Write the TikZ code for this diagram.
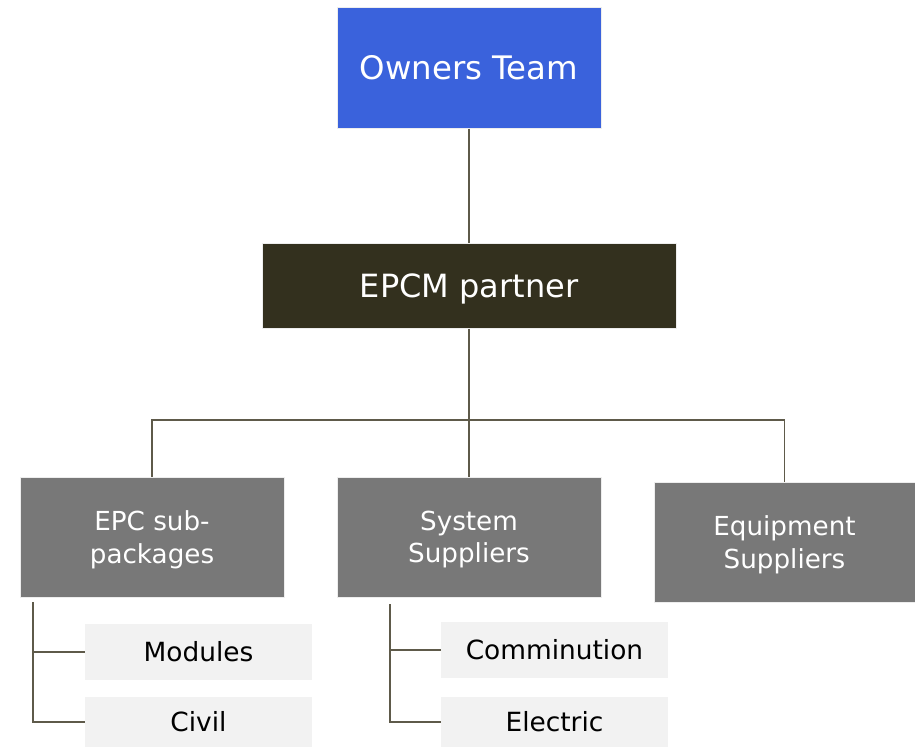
\documentclass[tikz,border=0pt]{standalone}
\usepackage{fontspec}
\setmainfont{DejaVu Sans}
\definecolor{ownblue}{HTML}{3A62DC}
\definecolor{epcmdark}{HTML}{33301E}
\definecolor{midgrey}{HTML}{787878}
\definecolor{lightgrey}{HTML}{F2F2F2}
\definecolor{linecol}{HTML}{5E5A4A}
\definecolor{edgecol}{HTML}{EDEDED}
\begin{document}
\begin{tikzpicture}[x=1pt,y=-1pt,
  box/.style={rectangle, inner sep=0pt, align=center, draw=edgecol, line width=1pt},
  topbox/.style={box, fill=ownblue, text=white, font=\fontsize{32.4}{38}\selectfont},
  midbox/.style={box, fill=epcmdark, text=white, text depth=0pt, font=\fontsize{32}{38}\selectfont},
  greybox/.style={box, fill=midgrey, text=white, text depth=0pt, minimum height=120pt, font=\fontsize{26.2}{32.5}\selectfont},
  leafbox/.style={rectangle, inner sep=0pt, fill=lightgrey, minimum width=227pt, text=black, font=\fontsize{26.4}{32}\selectfont},
  conn/.style={draw=linecol, line width=1.4pt}]
\useasboundingbox (0,0) rectangle (915,747);
\fill[white] (0,0) rectangle (915,747);
\node[topbox, minimum width=264pt, minimum height=121pt] (own) at (469,67.5) {Owners Team};
\node[midbox, minimum width=414pt, minimum height=85pt] (epcm) at (469,285.5) {EPCM partner};
\node[greybox, minimum width=264pt] (epc) at (152,537) {EPC sub-\\packages};
\node[greybox, minimum width=264pt] (sys) at (469,537) {System\\Suppliers};
\node[greybox, minimum width=261pt] (equip) at (784.5,542) {Equipment\\Suppliers};
\node[leafbox, minimum height=56pt] (mod) at (198.5,652) {Modules};
\node[leafbox, minimum height=50pt] (civil) at (198.5,722) {Civil};
\node[leafbox, minimum height=56pt] (comm) at (554.5,650) {Comminution};
\node[leafbox, minimum height=50pt] (elec) at (554.5,722) {Electric};
\coordinate (bus) at (469,420);
\coordinate (epcroot) at (33,602);
\coordinate (sysroot) at (390,604);
\draw[conn] (own.south) -- (epcm.north);
\draw[conn] (epcm.south) -- (sys.north);
\draw[conn] (epc.north) -- (epc.north |- bus) -- (equip.north |- bus) -- (equip.north);
\draw[conn] (epcroot) |- (civil.west);
\draw[conn] (epcroot |- mod.west) -- (mod.west);
\draw[conn] (sysroot) |- (elec.west);
\draw[conn] (sysroot |- comm.west) -- (comm.west);
\end{tikzpicture}
\end{document}
